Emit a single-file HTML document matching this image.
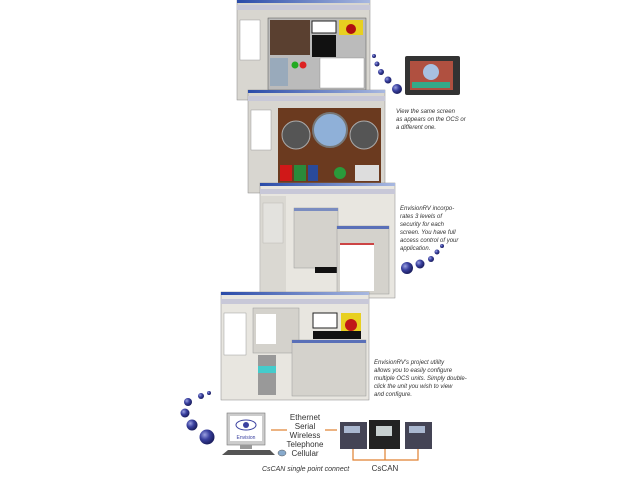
<!DOCTYPE html>
<html><head><meta charset="utf-8"><style>
html,body{margin:0;padding:0;background:#fff;width:640px;height:480px;overflow:hidden}
svg{display:block}
.t{font-family:"Liberation Sans",sans-serif;font-style:italic;font-size:6px;fill:#333}
.c{font-family:"Liberation Sans",sans-serif;font-size:8px;fill:#333;text-anchor:middle}
</style></head><body>
<svg width="640" height="480" viewBox="0 0 640 480" xmlns="http://www.w3.org/2000/svg">
<defs>
<radialGradient id="b" cx="35%" cy="35%" r="65%"><stop offset="0" stop-color="#9aa0e0"/><stop offset=".5" stop-color="#3a41a0"/><stop offset="1" stop-color="#1c1f60"/></radialGradient>
<linearGradient id="tb" x1="0" x2="1"><stop offset="0" stop-color="#2a4ba8"/><stop offset="1" stop-color="#a8b8e0"/></linearGradient>
</defs>

<!-- Screen 1 -->
<g>
<rect x="237" y="0" width="133" height="100" fill="#d8d6d0" stroke="#888" stroke-width=".5"/>
<rect x="237" y="0" width="133" height="3" fill="url(#tb)"/>
<rect x="237" y="5" width="133" height="5" fill="#c8c8d8"/>
<rect x="240" y="20" width="20" height="40" fill="#fff" stroke="#888" stroke-width=".4"/>
<rect x="268" y="18" width="98" height="72" fill="#bbb" stroke="#555" stroke-width=".5"/>
<rect x="270" y="20" width="40" height="35" fill="#5a4030"/>
<rect x="312" y="21" width="24" height="12" fill="#fff" stroke="#222"/>
<rect x="312" y="35" width="24" height="22" fill="#111"/>
<rect x="339" y="20" width="24" height="15" fill="#e8d020"/>
<circle cx="351" cy="29" r="5" fill="#b01010"/>
<rect x="270" y="58" width="18" height="28" fill="#9ab"/>
<circle cx="295" cy="65" r="3.5" fill="#2a2"/><circle cx="303" cy="65" r="3.5" fill="#d22"/>
<rect x="320" y="58" width="44" height="30" fill="#fff" stroke="#888" stroke-width=".4"/>
</g>

<!-- Screen 2 -->
<g>
<rect x="248" y="90" width="137" height="103" fill="#d8d6d0" stroke="#888" stroke-width=".5"/>
<rect x="248" y="90" width="137" height="3" fill="url(#tb)"/>
<rect x="248" y="96" width="137" height="5" fill="#c8c8d8"/>
<rect x="251" y="110" width="20" height="40" fill="#fff" stroke="#888" stroke-width=".4"/>
<rect x="278" y="108" width="103" height="75" fill="#6b3a1f"/>
<circle cx="296" cy="135" r="14" fill="#555" stroke="#aaa"/>
<circle cx="330" cy="130" r="17" fill="#8fb0d8" stroke="#777" stroke-width="2"/>
<circle cx="364" cy="135" r="14" fill="#555" stroke="#aaa"/>
<rect x="280" y="165" width="12" height="16" fill="#d01818"/>
<rect x="294" y="165" width="12" height="16" fill="#2a8a3a"/>
<rect x="308" y="165" width="10" height="16" fill="#2a4a9a"/>
<circle cx="340" cy="173" r="6" fill="#2a9a3a"/>
<rect x="355" y="165" width="24" height="16" fill="#ddd"/>
</g>

<!-- Screen 3 -->
<g>
<rect x="260" y="183" width="135" height="115" fill="#e8e6e0" stroke="#888" stroke-width=".5"/>
<rect x="260" y="183" width="135" height="3" fill="url(#tb)"/>
<rect x="260" y="189" width="135" height="5" fill="#c8c8d8"/>
<rect x="263" y="203" width="20" height="40" fill="#fff" stroke="#888" stroke-width=".4"/>
<rect x="260" y="196" width="26" height="100" fill="#d0cec8" opacity=".6"/>
<rect x="294" y="208" width="44" height="60" fill="#d4d2cc" stroke="#999" stroke-width=".5"/>
<rect x="294" y="208" width="44" height="3" fill="#7a8cc0"/>
<rect x="315" y="267" width="22" height="6" fill="#111"/>
<rect x="337" y="226" width="52" height="68" fill="#d4d2cc" stroke="#999" stroke-width=".5"/>
<rect x="337" y="226" width="52" height="3" fill="#5a70b8"/>
<rect x="340" y="243" width="34" height="48" fill="#fff"/>
<rect x="340" y="243" width="34" height="2" fill="#c44"/>
</g>

<!-- Screen 4 -->
<g>
<rect x="221" y="292" width="148" height="108" fill="#e8e6e0" stroke="#888" stroke-width=".5"/>
<rect x="221" y="292" width="148" height="3" fill="url(#tb)"/>
<rect x="221" y="299" width="148" height="5" fill="#c8c8d8"/>
<rect x="224" y="313" width="22" height="42" fill="#fff" stroke="#888" stroke-width=".4"/>
<rect x="253" y="308" width="46" height="45" fill="#d4d2cc" stroke="#999" stroke-width=".5"/>
<rect x="256" y="314" width="20" height="30" fill="#fff"/>
<rect x="313" y="313" width="24" height="15" fill="#fff" stroke="#222"/>
<rect x="341" y="313" width="20" height="20" fill="#e8d020"/>
<circle cx="351" cy="325" r="6" fill="#c01818"/>
<rect x="313" y="331" width="48" height="8" fill="#111"/>
<rect x="258" y="355" width="18" height="40" fill="#999"/>
<rect x="258" y="366" width="18" height="7" fill="#4cc"/>
<rect x="292" y="340" width="74" height="56" fill="#d4d2cc" stroke="#999" stroke-width=".5"/>
<rect x="292" y="340" width="74" height="3" fill="#5a70b8"/>
</g>

<!-- OCS device -->
<rect x="405" y="56" width="55" height="39" rx="2" fill="#333"/>
<rect x="410" y="61" width="43" height="29" fill="#b05040"/>
<circle cx="431" cy="72" r="8" fill="#a8c0e0"/>
<rect x="412" y="82" width="38" height="6" fill="#3a8"/>

<!-- dots -->
<g fill="url(#b)">
<circle cx="374" cy="56" r="2"/><circle cx="377" cy="64" r="2.5"/><circle cx="381" cy="72" r="3"/><circle cx="388" cy="80" r="3.5"/><circle cx="397" cy="89" r="5"/>
<circle cx="442" cy="246" r="2"/><circle cx="437" cy="252" r="2.5"/><circle cx="431" cy="259" r="3"/><circle cx="420" cy="264" r="4.5"/><circle cx="407" cy="268" r="6"/>
<circle cx="209" cy="393" r="2"/><circle cx="201" cy="396" r="3"/><circle cx="188" cy="402" r="4"/><circle cx="185" cy="413" r="4.5"/><circle cx="192" cy="425" r="5.5"/><circle cx="207" cy="437" r="7.5"/>
</g>

<text class="t" x="396" y="113">View  the same screen</text>
<text class="t" x="396" y="121">as appears on the OCS or</text>
<text class="t" x="396" y="129">a different one.</text>

<text class="t" x="400" y="210">EnvisionRV incorpo-</text>
<text class="t" x="400" y="218">rates 3 levels of</text>
<text class="t" x="400" y="226">security for each</text>
<text class="t" x="400" y="234">screen. You have full</text>
<text class="t" x="400" y="242">access control of your</text>
<text class="t" x="400" y="250">application.</text>

<text class="t" x="374" y="364">EnvisionRV's project utility</text>
<text class="t" x="374" y="372">allows you to easily configure</text>
<text class="t" x="374" y="380">multiple OCS units. Simply double-</text>
<text class="t" x="374" y="388">click the unit you wish to view</text>
<text class="t" x="374" y="396">and configure.</text>

<!-- computer -->
<rect x="227" y="413" width="38" height="32" fill="#ccc" stroke="#777" stroke-width=".6"/>
<rect x="230" y="416" width="32" height="25" fill="#fff"/>
<ellipse cx="246" cy="425" rx="10" ry="5" fill="none" stroke="#3a41a0"/>
<circle cx="246" cy="425" r="3" fill="#3a41a0"/>
<text x="246" y="439" font-family="Liberation Sans" font-size="5" text-anchor="middle" fill="#3a41a0">Envision</text>
<rect x="240" y="445" width="12" height="4" fill="#999"/>
<polygon points="222,455 275,455 270,450 228,450" fill="#555"/>
<ellipse cx="282" cy="453" rx="4" ry="3" fill="#8ac" stroke="#555" stroke-width=".5"/>
<line x1="271" y1="430" x2="287" y2="430" stroke="#e08030" stroke-width="1.2"/>
<line x1="325" y1="430" x2="337" y2="430" stroke="#e08030" stroke-width="1.2"/>

<text class="c" x="305" y="420">Ethernet</text>
<text class="c" x="305" y="429">Serial</text>
<text class="c" x="305" y="438">Wireless</text>
<text class="c" x="305" y="447">Telephone</text>
<text class="c" x="305" y="456">Cellular</text>

<!-- controllers -->
<g stroke="#e08030" stroke-width="1.2" fill="none">
<path d="M353 449 V460 H418 V449"/><line x1="385" y1="449" x2="385" y2="460"/>
</g>
<rect x="340" y="422" width="27" height="27" fill="#445"/><rect x="344" y="426" width="16" height="7" fill="#aab8d0"/>
<rect x="369" y="420" width="31" height="29" fill="#222"/><rect x="376" y="426" width="16" height="10" fill="#c8d0d0"/>
<rect x="405" y="422" width="27" height="27" fill="#445"/><rect x="409" y="426" width="16" height="7" fill="#aab8d0"/>

<text class="t" x="262" y="471" style="font-size:7px">CsCAN single point connect</text>
<text class="c" x="385" y="471">CsCAN</text>
</svg>
</body></html>
